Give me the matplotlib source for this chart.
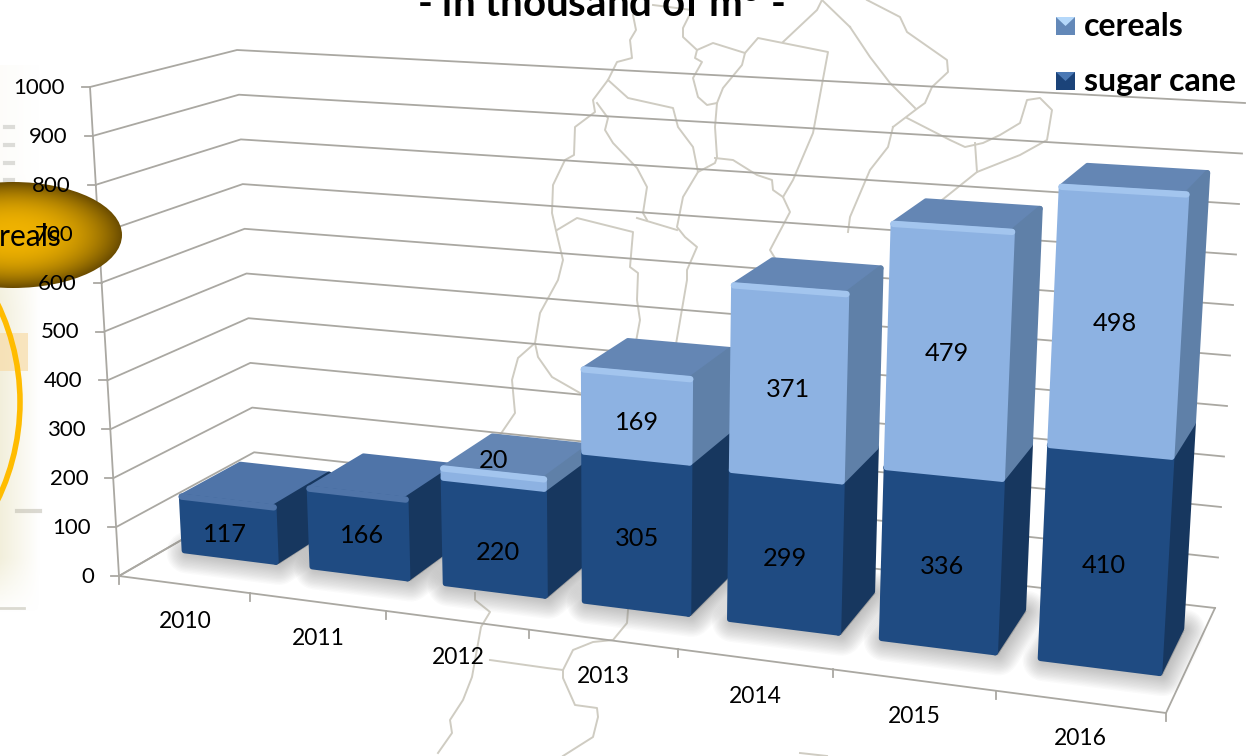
import numpy as np
import matplotlib
matplotlib.use("Agg")
import matplotlib.pyplot as plt
from matplotlib.patches import Polygon, Rectangle, Arc, Ellipse

plt.rcParams['font.family'] = ['Lato', 'DejaVu Sans']
plt.rcParams['mathtext.fontset'] = 'custom'
plt.rcParams['mathtext.bf'] = 'Lato:bold'

years = ['2010', '2011', '2012', '2013', '2014', '2015', '2016']
sugar_cane = [117, 166, 220, 305, 299, 336, 410]
cereals = [0, 0, 20, 169, 371, 479, 498]
y_ticks = [0, 100, 200, 300, 400, 500, 600, 700, 800, 900, 1000]

# nudges for the data labels, in pixels
cane_nudge = [(-4, 5), (4, 2), (4, 16), (1, 6), (0, 8), (1, 7), (-1, 7)]
cereal_nudge = [(0, 0), (0, 0), (0, -18), (1, 7), (0, 7), (-1, 3), (-2, 3)]

# corners of the fake 3d box in image pixels: (value 0, value 1000)
FL = np.array([[119, 576], [90, 87]], float)
BL = np.array([[256, 497], [237, 50]], float)
BR = np.array([[1215, 608], [1245, 103]], float)
FR = np.array([[1166, 713], [1199, 146]], float)

GRID = '#aaa8a2'
MAP = '#cfccc2'
DEPTH0, DEPTH1 = 0.35, 0.78
GAP = 0.14
BAR_SCALE = 0.97  # bars sit a bit below the wall scale in the original
FS_AXIS = 16
FS_DATA = 18.3


# k is the category position 0..7, d the depth 0..1, v the value
def project(k, d, v):
    t = k / 7.0
    u = t / (t + (1 - t) * 1.166)
    w = v / 1000.0
    fl = FL[0] + (FL[1] - FL[0]) * w
    bl = BL[0] + (BL[1] - BL[0]) * w
    br = BR[0] + (BR[1] - BR[0]) * w
    fr = FR[0] + (FR[1] - FR[0]) * w
    left = fl + (bl - fl) * d
    right = fr + (br - fr) * d
    return left + (right - left) * u


def face(ax, pts, color, z, lw=4):
    ax.add_patch(Polygon(pts, closed=True, fc=color, ec=color, lw=lw,
                         joinstyle='round', zorder=z))


# one block of the stack, from value v0 to v1
def block(ax, i, v0, v1, front, side, top, light, z):
    x0, x1 = i + GAP, i + 1 - GAP
    v0, v1 = v0 * BAR_SCALE, v1 * BAR_SCALE
    a = project(x0, DEPTH0, v0)
    b = project(x1, DEPTH0, v0)
    c = project(x1, DEPTH0, v1)
    e = project(x0, DEPTH0, v1)
    f = project(x1, DEPTH1, v0)
    g = project(x1, DEPTH1, v1)
    h = project(x0, DEPTH1, v1)
    face(ax, [h, g, c, e], top, z)
    face(ax, [b, f, g, c], side, z)
    face(ax, [a, b, c, e], front, z + 0.1)
    ax.plot([e[0], c[0]], [e[1], c[1]], color=light, lw=4.6,
            solid_capstyle='round', zorder=z + 0.2)


fig = plt.figure(figsize=(12.49, 7.56), dpi=100)
ax = fig.add_axes([0, 0, 1, 1])
ax.set_xlim(0, 1249)
ax.set_ylim(756, 0)
ax.axis('off')

# pale scrap of a picture at the left edge
ramp = np.ones((110, 60, 4))
ramp[:, :, :3] = [0.95, 0.94, 0.86]
across = np.linspace(1, 0, 60)
down = np.clip((np.linspace(0, 1, 110) - 0.15) / 0.3, 0.15, 1) * np.clip((1 - np.linspace(0, 1, 110)) / 0.1, 0, 1)
ramp[:, :, 3] = np.outer(down, across)
ax.imshow(ramp, extent=(0, 40, 615, 65), aspect='auto', zorder=0)
ax.set_xlim(0, 1249)
ax.set_ylim(756, 0)
ax.add_patch(Rectangle((0, 333), 28, 38, fc='#f8dca8', ec='none', alpha=0.7, zorder=0.5))
ax.add_patch(Arc((-206, 402), 452, 452, theta1=-30, theta2=30, color='#ffbc00', lw=4, zorder=1))
for yy in [127, 145, 163, 180]:
    ax.plot([5, 13], [yy, yy], color='#dcdcd8', lw=3, zorder=0.6)
ax.plot([17, 40], [511, 511], color='#b9b6a8', lw=3, alpha=0.5, zorder=0.6)
ax.plot([0, 24], [608, 608], color='#c4c2b4', lw=2, alpha=0.6, zorder=0.6)

# background map lines, just decoration
map_lines = [
    [(633, 15), (636, 30), (630, 40), (632, 58), (617, 62), (608, 80), (593, 100), (595, 112), (575, 127),
     (574, 155), (565, 160), (553, 185), (552, 213), (557, 235), (563, 260), (558, 280), (540, 313),
     (535, 343), (518, 358), (512, 380), (515, 413), (500, 435), (490, 460)],
    [(535, 343), (538, 357), (552, 377), (580, 393)],
    [(608, 80), (628, 98), (673, 108), (678, 127), (693, 147), (698, 172), (683, 197), (677, 227),
     (685, 237), (697, 247), (687, 270), (687, 280), (675, 350)],
    [(597, 103), (608, 118), (605, 130), (613, 143), (637, 168), (647, 187), (643, 213), (647, 220)],
    [(557, 230), (577, 218), (633, 232), (630, 267), (638, 273), (637, 300), (640, 320), (635, 347)],
    [(637, 218), (677, 230)],
    [(653, 5), (692, 10), (683, 28), (683, 37), (697, 50), (713, 43), (745, 53), (758, 38), (828, 52),
     (813, 133), (793, 180), (783, 197), (790, 212), (770, 250), (778, 263)],
    [(697, 50), (695, 58), (702, 62), (693, 78), (698, 97), (707, 105), (717, 103), (715, 127),
     (717, 157), (715, 163), (698, 172)],
    [(745, 53), (742, 65), (723, 88), (717, 103)],
    [(715, 158), (733, 160), (757, 175), (772, 180), (773, 190), (783, 197)],
    [(783, 42), (817, 10), (822, 0)],
    [(822, 0), (850, 27)],
    [(893, 127), (888, 147), (870, 170), (850, 217), (848, 232)],
    [(867, 0), (900, 17), (907, 32), (947, 60), (948, 72), (932, 87), (925, 103), (918, 108), (893, 127)],
    [(850, 27), (870, 57), (890, 83), (915, 108)],
    [(907, 118), (950, 140), (965, 147), (983, 143), (1000, 135), (1020, 123), (1027, 100), (1040, 98),
     (1052, 110), (1047, 140), (1020, 155), (977, 172), (942, 200)],
    [(975, 143), (977, 172)],
    [(475, 593), (475, 600), (490, 612), (481, 627), (472, 677), (463, 700), (450, 720), (452, 733), (438, 753)],
    [(490, 660), (547, 668), (563, 670), (563, 678), (575, 705), (597, 708), (598, 717), (593, 737), (563, 756)],
    [(563, 670), (573, 650), (593, 642), (613, 640), (627, 623), (628, 610)],
    [(800, 753), (827, 756)],
]
for line in map_lines:
    xs, ys = zip(*line)
    ax.plot(xs, ys, color=MAP, lw=1.4, zorder=1.5)

# gridlines on the two walls
for v in y_ticks:
    p0 = project(0, 0, v)
    p1 = project(0, 1, v)
    p2 = project(7, 1, v)
    ax.plot([p0[0], p1[0], p2[0]], [p0[1], p1[1], p2[1]], color=GRID, lw=1.3, zorder=2)
    ax.plot([p0[0] - 8, p0[0]], [p0[1], p0[1]], color=GRID, lw=1.3, zorder=2)
    ax.text(p0[0] - 25, p0[1] + 1, str(v), ha='right', va='center', fontsize=FS_AXIS, color='black', zorder=20)

# axis and floor
top_left = project(0, 0, 1000)
p0 = project(0, 0, 0)
ax.plot([p0[0], top_left[0]], [p0[1], top_left[1]], color=GRID, lw=1.3, zorder=2)
floor = [project(0, 1, 0), project(0, 0, 0), project(7, 0, 0), project(7, 1, 0)]
ax.plot([p[0] for p in floor], [p[1] for p in floor], color=GRID, lw=1.3, zorder=2)
for k in range(8):
    p = project(k, 0, 0)
    ax.plot([p[0], p[0]], [p[1], p[1] + 8], color=GRID, lw=1.3, zorder=2)

# category labels
for i, year in enumerate(years):
    p = project(i + 0.5, 0, 0)
    ax.text(p[0] + 1, p[1] + 37, year, ha='center', va='center', fontsize=16.5, color='black', zorder=20)

# shadows on the floor
for i in range(len(years)):
    x0, x1 = i + GAP, i + 1 - GAP
    foot = [project(x0, DEPTH0, 0), project(x1, DEPTH0, 0), project(x1, DEPTH1, 0), project(x0, DEPTH1, 0)]
    foot = [(p[0] + 3, p[1] + 2) for p in foot]
    for lw in np.arange(30, 1, -2):
        ax.add_patch(Polygon(foot, closed=True, fc='#777777', ec='#777777', lw=lw, alpha=0.035,
                             joinstyle='round', zorder=2.5))

# the bars, left to right so the next one covers the side of the last
for i in range(len(years)):
    z = 3 + i
    ridge = '#4f74a8' if cereals[i] == 0 else '#1f4b82'
    block(ax, i, 0, sugar_cane[i], '#1f4b82', '#17375f', '#4f74a8', ridge, z)
    if cereals[i] > 0:
        block(ax, i, sugar_cane[i], sugar_cane[i] + cereals[i], '#8db2e2', '#5f80a8', '#6486b4', '#a3c5ee', z + 0.3)

# data labels
for i in range(len(years)):
    p = project(i + 0.5, DEPTH0, sugar_cane[i] / 2 * BAR_SCALE)
    dx, dy = cane_nudge[i]
    ax.text(p[0] + dx, p[1] + dy, str(sugar_cane[i]), ha='center', va='center', fontsize=FS_DATA, color='black', zorder=20)
    if cereals[i] > 0:
        p = project(i + 0.5, DEPTH0, (sugar_cane[i] + cereals[i] / 2) * BAR_SCALE)
        dx, dy = cereal_nudge[i]
        ax.text(p[0] + dx, p[1] + dy, str(cereals[i]), ha='center', va='center', fontsize=FS_DATA, color='black', zorder=20)

# gold ellipse cut by the left edge
yy, xx = np.mgrid[-1:1:120j, -1:1:240j]
rr = np.clip(np.sqrt(xx ** 2 + yy ** 2), 0, 1)
gold = np.zeros((120, 240, 4))
gold[:, :, 0] = 0.94 - 0.52 * rr ** 2.5
gold[:, :, 1] = 0.70 - 0.40 * rr ** 2.5
gold[:, :, 3] = 1.0
im = ax.imshow(gold, extent=(-96, 122, 288, 182), aspect='auto', zorder=18)
im.set_clip_path(Ellipse((13, 235), 218, 106, transform=ax.transData))
ax.set_xlim(0, 1249)
ax.set_ylim(756, 0)
ax.text(62, 237, 'cereals', ha='right', va='center', fontsize=21.5, color='black', zorder=19)

# title, cut by the top edge
ax.text(601, 17, r'- in thousand of m$^{\mathbf{3}}$ -', ha='center', va='baseline', fontsize=29,
        fontweight='bold', color='black', zorder=20)

# legend
for ly, label, base, tip in [(17, 'cereals', '#6388b8', '#b5d8fa'), (72, 'sugar cane', '#1b4379', '#4a78b4')]:
    ax.add_patch(Rectangle((1056, ly), 19, 18, fc=base, ec='none', zorder=20))
    ax.add_patch(Polygon([(1056, ly), (1075, ly), (1065.5, ly + 9)], closed=True, fc=tip, ec='none', zorder=20.1))
    ax.text(1084, ly + 9, label, ha='left', va='center', fontsize=23, fontweight='bold', color='black', zorder=20)

fig.savefig('out.png', dpi=100)
